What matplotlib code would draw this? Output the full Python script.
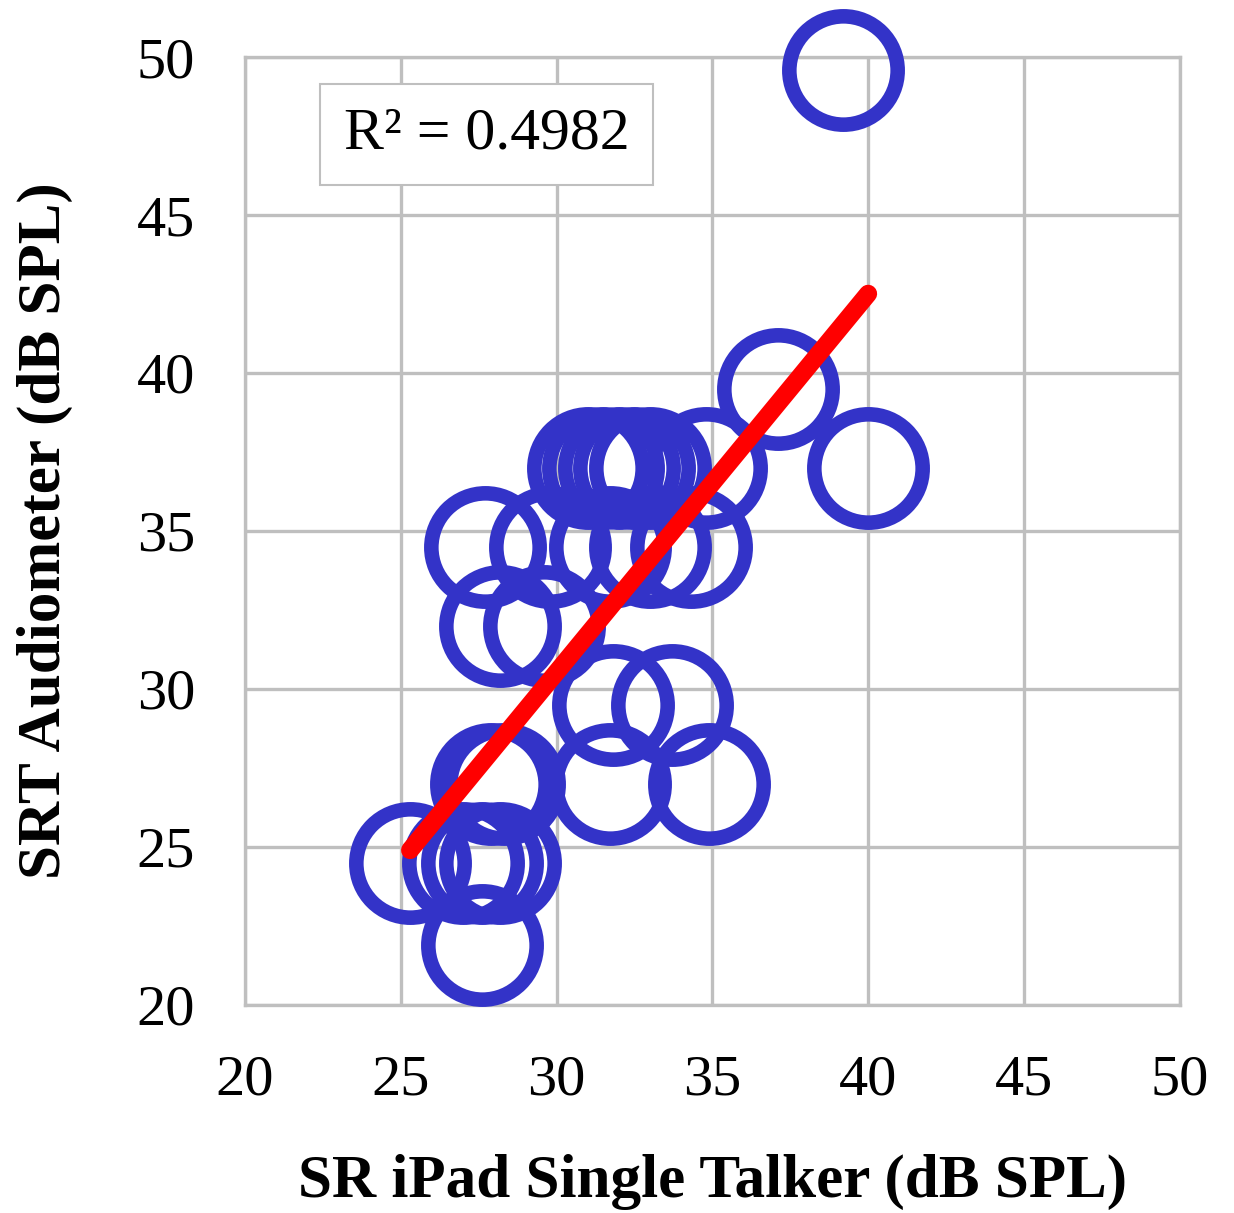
import numpy as np
import matplotlib
matplotlib.use("Agg")
import matplotlib.pyplot as plt

# data
x_vals = [39.2, 37.1, 40.0, 34.8,
          31.0, 31.5, 32.0, 32.5, 33.0,
          27.7, 29.8, 31.7, 33.0, 34.3,
          28.2, 29.6,
          31.8, 33.7,
          31.7, 34.9, 27.9, 28.3,
          25.3, 27.0, 27.6, 28.2,
          27.6]
y_vals = [49.6, 39.5, 37.0, 37.0,
          37.0, 37.0, 37.0, 37.0, 37.0,
          34.5, 34.5, 34.5, 34.5, 34.5,
          32.0, 32.0,
          29.5, 29.5,
          27.0, 27.0, 27.0, 27.0,
          24.5, 24.5, 24.5, 24.5,
          21.9]
ticks = [20, 25, 30, 35, 40, 45, 50]
r2_label = "R² = 0.4982"
x_label = "SR iPad Single Talker (dB SPL)"
y_label = "SRT Audiometer (dB SPL)"

plt.rcParams['font.family'] = ['Liberation Serif', 'DejaVu Serif']

fig = plt.figure(figsize=(12.34, 12.13), dpi=100)
ax = fig.add_axes([0.1985, 0.1715, 0.7575, 0.7815])

ax.set_xlim(20, 50)
ax.set_ylim(20, 50)
ax.set_xticks(ticks)
ax.set_yticks(ticks)
ax.grid(True, color='#BFBFBF', linewidth=2.4)
ax.set_axisbelow(True)
for s in ax.spines.values():
    s.set_color('#BFBFBF')
    s.set_linewidth(2.4)
ax.tick_params(axis='x', length=0, labelsize=42, pad=36)
ax.tick_params(axis='y', length=0, labelsize=42, pad=36)

ax.plot(x_vals, y_vals, linestyle='none', marker='o', markersize=78,
        markerfacecolor='none', markeredgecolor='#3333C8', markeredgewidth=10.5,
        clip_on=False, zorder=3)

xa = np.array(x_vals)
ya = np.array(y_vals)
slope, intercept = np.polyfit(xa, ya, 1)
xl = np.array([xa.min(), xa.max()])
ax.plot(xl, slope * xl + intercept, color='#FF0000', linewidth=13,
        solid_capstyle='round', zorder=4)

ax.text(27.75, 47.55, r2_label, fontsize=43, ha='center', va='center',
        bbox=dict(boxstyle='square,pad=0.4', facecolor='white',
                  edgecolor='#BFBFBF', linewidth=1.5), zorder=5)

ax.set_xlabel(x_label, fontsize=44, fontweight='bold', labelpad=34)
ax.set_ylabel(y_label, fontsize=44, fontweight='bold', labelpad=46)

fig.savefig('out.png', dpi=100)
